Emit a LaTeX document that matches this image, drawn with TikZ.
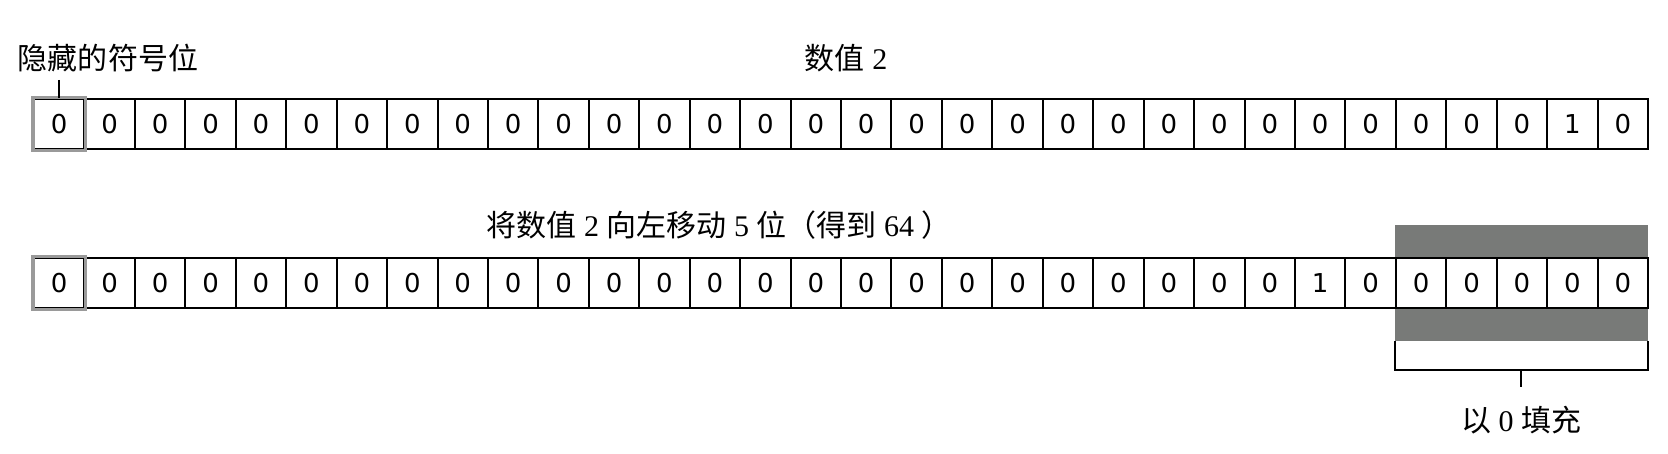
\documentclass[tikz,border=0pt]{standalone}
\usepackage{fontspec}
\setmainfont{Liberation Serif}
\newfontfamily\bitfont{DejaVu Sans}
\newfontfamily\cjk{Noto Sans CJK SC}
\definecolor{padgray}{HTML}{787A78}
\definecolor{signgray}{HTML}{9A9A9A}
\begin{document}
\begin{tikzpicture}[x=0.5pt, y=-0.5pt,
  bit/.style={draw, line width=1pt, minimum size=25.22pt, inner sep=0pt, fill=white, font=\bitfont\fontsize{13}{13}\selectfont},
  signbit/.style={draw=signgray, line width=1.6pt},
  lbl/.style={inner sep=0pt, font=\fontsize{15}{15}\selectfont},
  tick/.style={line width=1pt}]
\useasboundingbox (0,0) rectangle (1668,454);
% zero padding band behind the last five cells
\fill[padgray] (1395,225) rectangle (1648,341);
\foreach \i in {0,...,31}{
  \node[bit] (a\i) at (59.2+50.44*\i,124) {\ifnum\i=30 1\else 0\fi};
  \node[bit] (b\i) at (59.2+50.44*\i,283) {\ifnum\i=25 1\else 0\fi};
}
\draw[signbit] (a0.south west) rectangle (a0.north east);
\draw[signbit] (b0.south west) rectangle (b0.north east);
% labels
\node[lbl] (sign) at (108,58) {{\cjk 隐藏的符号位}};
\node[lbl] (value) at (846,58) {{\cjk 数值} 2};
\node[lbl] (shift) at (719,225) {{\cjk 将数值} 2 {\cjk 向左移动} 5 {\cjk 位（得到} 64 {\cjk ）}};
\node[lbl] (padlbl) at (1521,420) {{\cjk 以} 0 {\cjk 填充}};
\coordinate (signtick) at (59.2,80);
\draw[tick] (signtick) -- (a0.north);
% bracket under the padding
\coordinate (brl) at (1395,341);
\coordinate (brr) at (1648,341);
\coordinate (brmid) at (1521,370);
\coordinate (padtick) at (1521,387);
\draw[tick] (brl) -- (brl |- brmid) -- (brr |- brmid) -- (brr);
\draw[tick] (brmid) -- (padtick);
\end{tikzpicture}
\end{document}
